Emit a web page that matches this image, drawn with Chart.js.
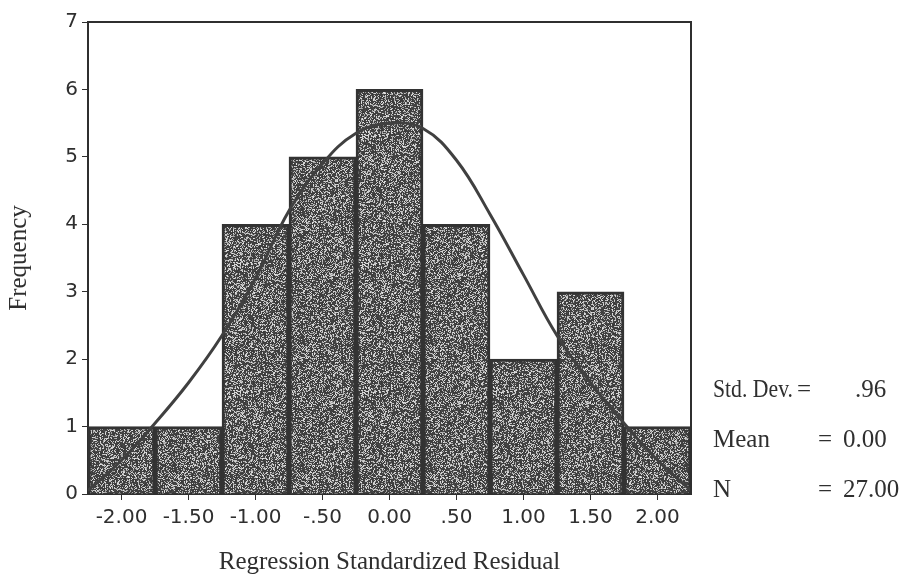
<!DOCTYPE html>
<html>
<head>
<meta charset="utf-8">
<script src="https://cdn.jsdelivr.net/npm/chart.js@4/dist/chart.umd.min.js"></script>
<style>
  html, body { margin: 0; padding: 0; background: #fff; }
  #wrap { width: 904px; height: 577px; }
</style>
</head>
<body>
<div id="wrap"><canvas id="hist"></canvas></div>
<script>
// bin centres and counts
const binCenters = [-2.0, -1.5, -1.0, -0.5, 0.0, 0.5, 1.0, 1.5, 2.0];
const frequencies = [1, 1, 4, 5, 6, 4, 2, 3, 1];

// normal curve
const curveX = [-2.25, -2.0, -1.75, -1.5, -1.25, -1.0, -0.75, -0.5, -0.25, 0.0,
                0.25, 0.5, 0.75, 1.0, 1.25, 1.5, 1.75, 2.0, 2.25];
const curveY = [0.05, 0.5, 1.05, 1.65, 2.35, 3.2, 4.2, 4.9, 5.35, 5.5,
                5.42, 4.95, 4.15, 3.25, 2.35, 1.65, 1.05, 0.5, 0.05];

const xTickValues = [-2.0, -1.5, -1.0, -0.5, 0.0, 0.5, 1.0, 1.5, 2.0];
const xTickLabels = ['-2.00', '-1.50', '-1.00', '-.50', '0.00', '.50', '1.00', '1.50', '2.00'];

const statNames = ['Std. Dev.', 'Mean', 'N'];
const statValues = ['.96', '0.00', '27.00'];

const INK = '#2f2f2f';

// stippled fill like the printed bars (deterministic hash noise)
function makeStipple() {
  const c = document.createElement('canvas');
  c.width = 128; c.height = 128;
  const g = c.getContext('2d');
  const img = g.createImageData(128, 128);
  let s = 1234567;
  function rnd() {
    s = (s * 1103515245 + 12345) & 0x7fffffff;
    return s / 0x7fffffff;
  }
  for (let i = 0; i < 128 * 128; i++) {
    const r = rnd();
    let v = r < 0.64 ? 55 + r * 30 : 150 + (r - 0.64) * 220;
    img.data[i * 4] = v;
    img.data[i * 4 + 1] = v;
    img.data[i * 4 + 2] = v;
    img.data[i * 4 + 3] = 255;
  }
  g.putImageData(img, 0, 0);
  return document.getElementById('hist').getContext('2d').createPattern(c, 'repeat');
}

const framePlugin = {
  id: 'frame',
  afterDatasetsDraw(chart) {
    const {ctx, chartArea: a} = chart;
    ctx.save();
    ctx.strokeStyle = INK;
    ctx.lineWidth = 2;
    ctx.beginPath();
    ctx.moveTo(a.left, a.top);
    ctx.lineTo(a.right, a.top);
    ctx.lineTo(a.right, a.bottom);
    ctx.stroke();
    ctx.restore();
  },
  afterDraw(chart) {
    const ctx = chart.ctx;
    ctx.save();
    ctx.fillStyle = INK;
    ctx.font = '25px "Liberation Serif"';
    ctx.textBaseline = 'alphabetic';
    const rows = [397, 447, 497];
    const nameW = [80, 60, 20];
    const eqX = [797, 818, 818];
    const valX = [855, 843, 843];
    for (let i = 0; i < statNames.length; i++) {
      ctx.fillText(statNames[i], 713, rows[i], nameW[i]);
      ctx.fillText('=', eqX[i], rows[i]);
      ctx.fillText(statValues[i], valX[i], rows[i]);
    }
    ctx.restore();
  }
};

const tickFont = { family: '"DejaVu Sans"', size: 20 };
const titleFont = { family: '"Liberation Serif"', size: 25 };

new Chart(document.getElementById('hist'), {
  type: 'bar',
  data: {
    datasets: [
      {
        type: 'line',
        data: curveX.map((x, i) => ({ x: x, y: curveY[i] })),
        borderColor: '#404040',
        borderWidth: 3,
        pointRadius: 0,
        tension: 0.4,
        fill: false,
        order: 0
      },
      {
        type: 'bar',
        data: binCenters.map((x, i) => ({ x: x, y: frequencies[i] })),
        backgroundColor: makeStipple(),
        borderColor: '#333333',
        borderWidth: 3,
        barPercentage: 1.0,
        categoryPercentage: 1.0,
        order: 1
      }
    ]
  },
  options: {
    responsive: true,
    maintainAspectRatio: false,
    animation: false,
    layout: { padding: { top: 22, right: 213, left: 0, bottom: 0 } },
    plugins: {
      legend: { display: false },
      tooltip: { enabled: false }
    },
    scales: {
      x: {
        type: 'linear',
        min: -2.25,
        max: 2.25,
        offset: false,
        afterBuildTicks: (s) => { s.ticks = xTickValues.map(v => ({ value: v })); },
        afterFit: (s) => { s.height = 83; },
        ticks: {
          autoSkip: false,
          maxRotation: 0,
          padding: 6,
          color: INK,
          font: tickFont,
          callback: (v, i) => xTickLabels[i]
        },
        grid: { drawOnChartArea: false, drawTicks: true, tickLength: 6, color: INK, offset: false },
        border: { color: INK, width: 2 },
        title: {
          display: true,
          text: 'Regression Standardized Residual',
          color: INK,
          font: titleFont,
          padding: { top: 0, bottom: 0 }
        }
      },
      y: {
        min: 0,
        max: 7,
        afterFit: (s) => { s.width = 88; },
        ticks: { stepSize: 1, padding: 4, color: INK, font: tickFont },
        grid: { drawOnChartArea: false, drawTicks: true, tickLength: 6, color: INK },
        border: { color: INK, width: 2 },
        title: {
          display: true,
          text: 'Frequency',
          color: INK,
          font: titleFont,
          padding: { top: 4, bottom: 4 }
        }
      }
    }
  },
  plugins: [framePlugin]
});
</script>
</body>
</html>
